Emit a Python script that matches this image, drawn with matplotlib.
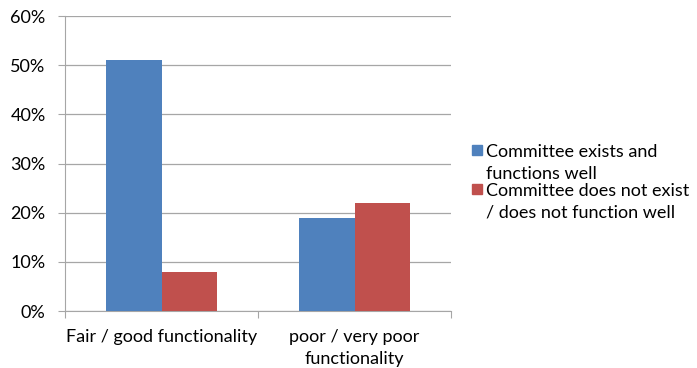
import matplotlib
matplotlib.use('Agg')
import matplotlib.pyplot as plt
from matplotlib.patches import Rectangle
import numpy as np

# data
categories = ['Fair / good functionality', 'poor / very poor\nfunctionality']
exists_well = [51, 19]
not_well = [8, 22]
series_labels = ['Committee exists and\nfunctions well',
                 'Committee does not exist\n/ does not function well']
series_colors = ['#4F81BD', '#C0504D']
yticks = [0, 10, 20, 30, 40, 50, 60]

plt.rcParams['font.family'] = ['Lato', 'DejaVu Sans']
FS = 13

fig = plt.figure(figsize=(6.97, 3.68), dpi=100)
ax = fig.add_axes([65 / 697, 57 / 368, 386 / 697, 295 / 368])

x = np.arange(len(categories))
w = 0.285
grid_c = '#a6a6a6'
ax.bar(x - w / 2, exists_well, w, color=series_colors[0], zorder=3)
ax.bar(x + w / 2, not_well, w, color=series_colors[1], zorder=3)

ax.set_xlim(-0.5, len(categories) - 0.5)
ax.set_ylim(0, 60)
ax.set_yticks(yticks)
ax.set_yticklabels([f'{t}%' for t in yticks], fontsize=FS)
ax.yaxis.grid(True, color=grid_c, linewidth=0.9, zorder=0)

# category boundary ticks, labels centred between them
ax.set_xticks(np.arange(-0.5, len(categories), 1.0))
ax.set_xticklabels([])
ax.set_xticks(x, minor=True)
ax.set_xticklabels(categories, minor=True, fontsize=FS, linespacing=1.45)
ax.tick_params(axis='x', which='minor', length=0, pad=13)
ax.tick_params(axis='x', which='major', length=5, color=grid_c)
ax.tick_params(axis='y', length=5, color=grid_c, pad=9)

for s in ['top', 'right']:
    ax.spines[s].set_visible(False)
ax.spines['left'].set_color(grid_c)
ax.spines['bottom'].set_color(grid_c)

# legend: square aligned with the first line of each label, as in Excel
leg_top = [150, 189]
for lab, col, yp in zip(series_labels, series_colors, leg_top):
    fig.patches.append(Rectangle((472 / 697, 1 - (yp + 5) / 368), 10 / 697, 10 / 368,
                                 transform=fig.transFigure, color=col))
    fig.text(486 / 697, 1 - (yp - 6) / 368, lab, fontsize=FS, va='top',
             linespacing=1.45)

plt.savefig('out.png', dpi=100)
